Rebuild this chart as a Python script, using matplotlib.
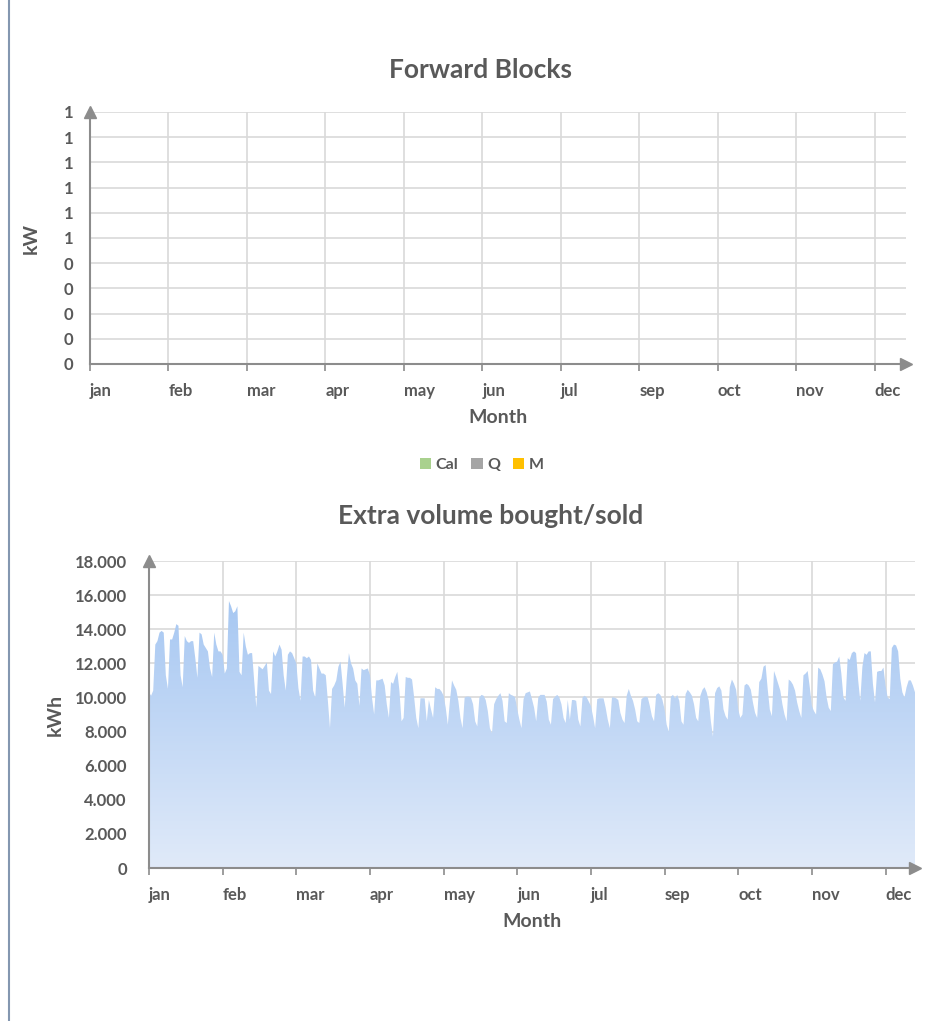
import numpy as np
import matplotlib
matplotlib.use("Agg")
import matplotlib.pyplot as plt
from matplotlib.patches import Patch
from matplotlib.lines import Line2D
from matplotlib.colors import LinearSegmentedColormap

plt.rcParams['font.family'] = ['Lato', 'DejaVu Sans']
plt.rcParams['font.weight'] = 'bold'
plt.rcParams['axes.labelweight'] = 'bold'

# month ticks every 35 days on a daily axis (aug gets skipped by the spacing)
tick_days = [0, 35, 70, 105, 140, 175, 210, 245, 280, 315, 350]
month_labels = ['jan', 'feb', 'mar', 'apr', 'may', 'jun', 'jul', 'sep', 'oct', 'nov', 'dec']

# forward blocks chart has no data, only the empty axis 0..1
kw_ticks = [0.0, 0.1, 0.2, 0.3, 0.4, 0.5, 0.6, 0.7, 0.8, 0.9, 1.0]
kw_tick_labels = ['0', '0', '0', '0', '0', '1', '1', '1', '1', '1', '1']
series_names = ['Cal', 'Q', 'M']
series_colors = ['#a9d18e', '#a5a5a5', '#ffc000']

kwh_ticks = [0, 2000, 4000, 6000, 8000, 10000, 12000, 14000, 16000, 18000]
kwh_tick_labels = ['0', '2.000', '4.000', '6.000', '8.000', '10.000',
                   '12.000', '14.000', '16.000', '18.000']

# extra volume bought/sold, kWh per day (one row per week)
volume = [
    10300, 10100, 10400,
    13100, 13300, 13800, 13900, 13800, 11300, 10500,
    13400, 13400, 13800, 14300, 14200, 11300, 10600,
    13600, 13300, 13200, 13300, 13300, 12300, 11150,
    13800, 13700, 13100, 12900, 12700, 11700, 11200,
    13800, 13100, 12700, 12700, 12500, 11400, 11700,
    15650, 15350, 14950, 15050, 15350, 11500, 11300,
    13800, 13000, 12500, 12600, 12600, 10950, 9400,
    11850, 11750, 11650, 11850, 12050, 10400, 10200,
    12700, 12400, 12700, 13100, 12800, 11300, 10400,
    12500, 12700, 12600, 12300, 12000, 10550, 9800,
    12400, 12400, 12300, 12400, 12200, 10400, 10000,
    12000, 11700, 11400, 11400, 11300, 9800, 8200,
    10500, 10700, 11000, 11800, 12100, 10800, 9400,
    11200, 12600, 12000, 11700, 11000, 10800, 9500,
    11700, 11600, 11650, 11700, 11300, 9950, 9000,
    11000, 11000, 11050, 11100, 10700, 9600, 8800,
    10900, 10800, 11200, 11500, 10400, 8600, 8800,
    11200, 11150, 11150, 11050, 10000, 8800, 8200,
    9950, 9950, 9950, 8600, 9850, 9300, 8800,
    10600, 10500, 10500, 10350, 10100, 9400, 8400,
    9800, 11000, 10700, 10450, 9800, 8800, 8200,
    10000, 10050, 10050, 10000, 9600, 8600, 8300,
    10000, 10150, 10100, 9850, 9200, 8200, 7900,
    9600, 9900, 10100, 10250, 9800, 8600, 8500,
    10250, 10150, 10100, 10000, 9300, 8700, 8200,
    9900, 10250, 10300, 10350, 9900, 9400, 8600,
    10000, 10150, 10150, 10150, 9750, 8700, 8400,
    9900, 10050, 10150, 10000, 9600, 8800, 8500,
    9850, 8700, 9850, 9850, 9800, 8700, 8300,
    10000, 10100, 10000, 9750, 9500, 8900, 8200,
    9900, 9950, 9950, 9950, 9400, 8700, 8200,
    10000, 10000, 9950, 9850, 9100, 8700, 8500,
    10100, 10500, 10100, 9800, 9300, 8600, 8500,
    9900, 10000, 10050, 10000, 9500, 8900, 8600,
    10150, 10250, 10150, 9850, 9300, 8400, 8000,
    10050, 10150, 9950, 10150, 9800, 8600, 8400,
    10200, 10450, 10300, 10100, 9600, 8800, 8600,
    10100, 10450, 10600, 10300, 9800, 8600, 7700,
    10250, 10550, 10650, 10400, 9300, 8900, 8700,
    10600, 11050, 10800, 10450, 9300, 8800, 9000,
    10700, 10800, 10700, 10450, 9700, 9100, 8800,
    10900, 11100, 11800, 11900, 10500, 9300, 8900,
    11550, 11200, 10800, 10400, 9600, 9000, 8600,
    11050, 10950, 10750, 10400, 9700, 9200, 8800,
    11300, 11400, 11550, 10600, 9500, 9200, 9000,
    11750, 11650, 11350, 10950, 10000, 9400, 9200,
    11950, 12050, 12100, 12400, 11400, 10000, 9800,
    12300, 12200, 12600, 12700, 12600, 11000, 9800,
    11800, 12600, 12500, 12700, 12700, 10800, 9700,
    11500, 11550, 11550, 11750, 10700, 10000, 9900,
    12900, 13100, 13050, 12700, 11100, 10300, 10000,
    10600, 11000, 11000, 10700, 10300,
]
days = np.arange(len(volume))

text_col = '#595959'
grid_col = '#d9d9d9'
axis_col = '#8c8c8c'

W, H = 938, 1021
fig = plt.figure(figsize=(W / 100, H / 100), dpi=100)

# thin frame line on the left of the sheet
fig.add_artist(Line2D([9 / W, 9 / W], [0, 1], color='#8497b0', lw=1.5))


def style_axes(ax, ytick_pad):
    for s in ['top', 'right']:
        ax.spines[s].set_visible(False)
    for s in ['left', 'bottom']:
        ax.spines[s].set_color(axis_col)
        ax.spines[s].set_linewidth(1.5)
    ax.set_axisbelow(True)
    ax.grid(True, color=grid_col, lw=1.2)
    ax.tick_params(axis='x', length=5, width=1.2, color=axis_col, pad=9,
                   labelsize=12, labelcolor=text_col)
    ax.tick_params(axis='y', length=0, pad=ytick_pad, labelsize=12,
                   labelcolor=text_col)
    ax.set_xticks(tick_days)
    ax.set_xticklabels(month_labels, ha='left')
    ax.set_xlim(0, 364)
    # arrow heads on the axes
    ax.plot(1, 0, '>', ms=9, color=axis_col, transform=ax.transAxes, clip_on=False, zorder=5)
    ax.plot(0, 1, '^', ms=9, color=axis_col, transform=ax.transAxes, clip_on=False, zorder=5)
    ax.set_xlabel('Month', fontsize=14, color=text_col, labelpad=7)


# ---- Forward Blocks
ax1 = fig.add_axes([89.7 / W, 1 - 364 / H, 816.5 / W, 252 / H])
style_axes(ax1, 12)
ax1.set_ylim(0, 1)
ax1.set_yticks(kw_ticks)
ax1.set_yticklabels(kw_tick_labels)
ax1.set_ylabel('kW', fontsize=14, color=text_col, labelpad=17)
fig.text(480 / W, 1 - 70 / H, 'Forward Blocks', ha='center', va='center',
         fontsize=19, color=text_col, weight='bold')

handles = [Patch(facecolor=c, edgecolor='none', label=n)
           for n, c in zip(series_names, series_colors)]
fig.legend(handles=handles, loc='center', bbox_to_anchor=(482 / W, 1 - 465 / H),
           ncol=3, frameon=False, handlelength=0.7, handleheight=0.7,
           handletextpad=0.3, columnspacing=0.8,
           prop={'size': 11.5, 'weight': 'bold'}, labelcolor=text_col)

# ---- Extra volume bought/sold
ax2 = fig.add_axes([149 / W, 1 - 868 / H, 766 / W, 307 / H])
style_axes(ax2, 16)
poly = ax2.fill_between(days, 0, volume, facecolor='none', edgecolor='none', zorder=2)
cmap = LinearSegmentedColormap.from_list('vol', ['#e0eaf9', '#a6c7f2'])
grad = np.linspace(0, 1, 256).reshape(-1, 1)
im = ax2.imshow(grad, cmap=cmap, aspect='auto', origin='lower',
                extent=[0, 364, 0, 16000], zorder=2)
im.set_clip_path(poly.get_paths()[0], transform=ax2.transData)
ax2.set_xlim(0, 364)
ax2.set_ylim(0, 18000)
ax2.set_yticks(kwh_ticks)
ax2.set_yticklabels(kwh_tick_labels)
ax2.set_ylabel('kWh', fontsize=14, color=text_col, labelpad=8)
fig.text(491 / W, 1 - 516 / H, 'Extra volume bought/sold', ha='center', va='center',
         fontsize=19, color=text_col, weight='bold')

fig.savefig('out.png', dpi=100)
